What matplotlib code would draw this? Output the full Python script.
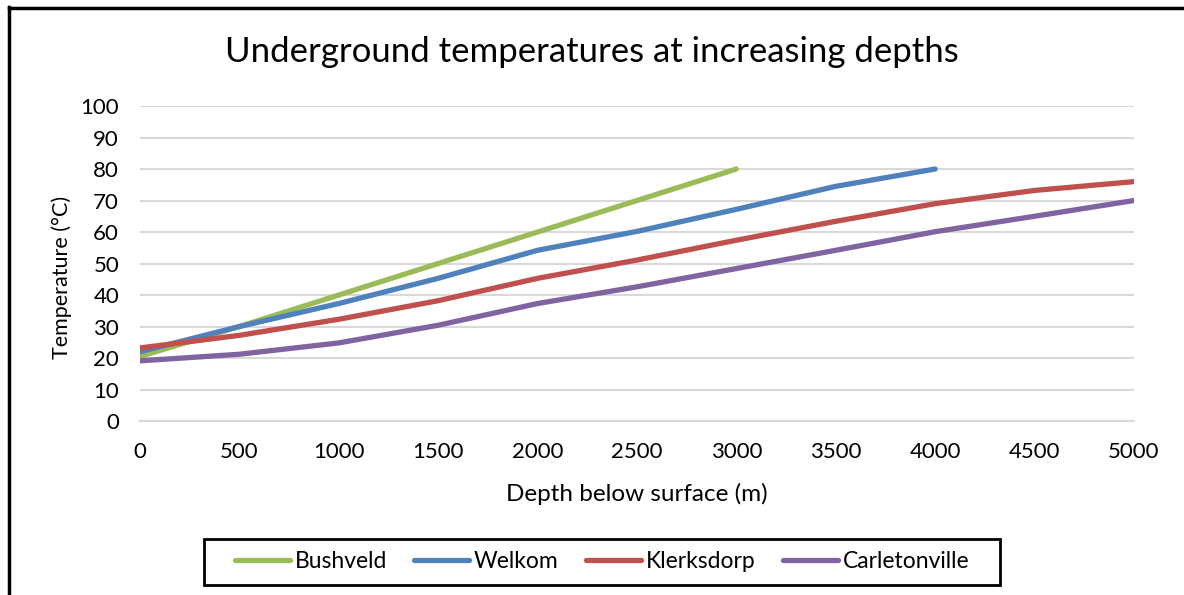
import matplotlib
matplotlib.use("Agg")
import matplotlib.pyplot as plt
from matplotlib.lines import Line2D
from matplotlib.patches import Rectangle

plt.rcParams['font.family'] = ['Lato', 'DejaVu Sans']

# depths in metres, temperatures in degrees C
depth = [0, 500, 1000, 1500, 2000, 2500, 3000, 3500, 4000, 4500, 5000]
bushveld = [20.5, 30, 40, 50, 60, 70, 80]
welkom = [22, 30, 37.3, 45.3, 54.2, 60.2, 67.2, 74.5, 80]
klerksdorp = [23.2, 27.2, 32.3, 38.2, 45.3, 51.1, 57.4, 63.4, 69, 73.2, 76]
carletonville = [19.1, 21.2, 24.8, 30.4, 37.3, 42.6, 48.4, 54.2, 60.1, 65, 70]

names = ['Bushveld', 'Welkom', 'Klerksdorp', 'Carletonville']
colours = ['#9bbb59', '#4f81bd', '#c0504d', '#8064a2']
series = [bushveld, welkom, klerksdorp, carletonville]

fig = plt.figure(figsize=(11.84, 5.95), dpi=100)
ax = fig.add_axes([0.1182, 0.2924, 0.8395, 0.5294])

for name, col, temps in zip(names, colours, series):
    ax.plot(depth[:len(temps)], temps, color=col, lw=3.8, label=name,
            solid_capstyle='round', solid_joinstyle='round')

ax.set_xlim(0, 5000)
ax.set_ylim(0, 100)
ax.set_yticks(range(0, 101, 10))
ax.set_xticks(range(0, 5001, 500))
ax.set_xticks([0, 2000, 4000], minor=True)
ax.tick_params(axis='both', which='major', length=0, labelsize=16)
ax.tick_params(axis='x', which='major', pad=15)
ax.tick_params(axis='y', which='major', pad=15)
ax.tick_params(axis='x', which='minor', length=6, color='#d9d9d9', width=1.2)
ax.grid(axis='y', color='#d9d9d9', lw=1.5)
ax.set_axisbelow(True)
for s in ['top', 'right', 'left']:
    ax.spines[s].set_visible(False)
ax.spines['bottom'].set_color('#d9d9d9')
ax.spines['bottom'].set_linewidth(1.5)

ax.set_xlabel('Depth below surface (m)', fontsize=17.5, labelpad=15)
ax.set_ylabel('Temperature (°C)', fontsize=15.5)
ax.yaxis.set_label_coords(-0.068, 0.457)
fig.text(0.5, 0.913, 'Underground temperatures at increasing depths',
         ha='center', va='center', fontsize=25)

leg = fig.legend(loc='center', bbox_to_anchor=(0.5085, 0.0555), ncol=4,
                 fontsize=16.5, frameon=False,
                 handlelength=2.4, handletextpad=0.2, columnspacing=1.2,
                 borderaxespad=0)

# legend box and the black frame on the left and top edges
fig.add_artist(Rectangle((204 / 1184, 10 / 595), 796 / 1184, 46 / 595,
                         transform=fig.transFigure, fill=False,
                         edgecolor='black', lw=2))
fig.add_artist(Line2D([0.0072, 0.0072], [0, 0.988], transform=fig.transFigure,
                      color='black', lw=2.5))
fig.add_artist(Line2D([0.0072, 1], [0.986, 0.986], transform=fig.transFigure,
                      color='black', lw=2.5))

fig.savefig('out.png', dpi=100)
